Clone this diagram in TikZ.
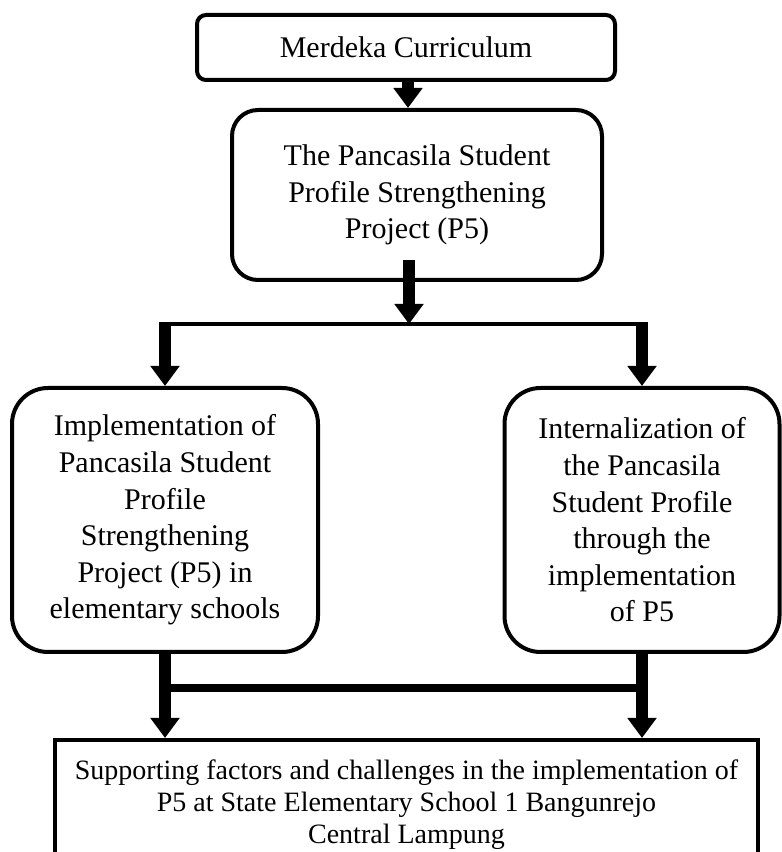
\documentclass[tikz,border=0pt]{standalone}
\usepackage{fontspec}
\setmainfont{Liberation Serif}
\usepackage{xcolor}
\usepackage{tikz}
\usetikzlibrary{arrows.meta,positioning,calc}
\definecolor{cInk}{HTML}{000000}
\tikzset{
  rbox/.style={draw=cInk,rounded corners=#1,line width=4pt,align=center,inner sep=0pt,text=cInk,font=\fontsize{30}{36.6}\selectfont},
  rbox/.default=10pt,
  sqbox/.style={draw=cInk,line width=4pt,align=center,inner sep=0pt,text=cInk,font=\fontsize{28}{32}\selectfont},
  arr/.style={-{Triangle[width=28pt,length=20pt]},line width=12pt,color=cInk},
  bar/.style={line width=#1,color=cInk},
  bar/.default=4pt,
}
\begin{document}
\begin{tikzpicture}[x=1pt,y=1pt]
  \useasboundingbox (0,0) rectangle (782,852);
  \clip (0,0) rectangle (782,852);
  \node[rbox=9pt,minimum width=418pt,minimum height=65pt] (merdeka) at (406,804.5) {Merdeka Curriculum};
  \node[rbox=26pt,minimum width=370pt,minimum height=170pt] (mid) at (417,657) {The Pancasila Student\\Profile Strengthening\\Project (P5)};
  \node[rbox=36pt,minimum width=306pt,minimum height=264pt] (impl) at (165,332) {Implementation of\\Pancasila Student\\Profile\\Strengthening\\Project (P5) in\\elementary schools};
  \node[rbox=36pt,minimum width=275pt,minimum height=264pt] (intern) at (642,332) {Internalization of\\the Pancasila\\Student Profile\\through the\\implementation\\of P5};
  \node[sqbox,minimum width=703pt,minimum height=130pt] (factors) at (406.5,47) {Supporting factors and challenges in the implementation of\\P5 at State Elementary School 1 Bangunrejo\\Central Lampung};
  \coordinate (split) at ($(mid.south)+(-8,-42)$);
  \coordinate (join) at ($(impl.south)+(0,-34)$);
  \draw[arr] ([xshift=2pt]merdeka.south) -- ([xshift=2pt]merdeka.south |- mid.north);
  \draw[arr] ([shift={(-8pt,22pt)}]mid.south) -- (split);
  \draw[bar] ([xshift=-6pt]impl.north |- split) -- ([xshift=6pt]intern.north |- split);
  \draw[arr] ([yshift=2pt]impl.north |- split) -- (impl.north);
  \draw[arr] ([yshift=2pt]intern.north |- split) -- (intern.north);
  \draw[arr] (impl.south) -- (impl.south |- factors.north);
  \draw[arr] (intern.south) -- (intern.south |- factors.north);
  \draw[bar=8pt] (impl.south |- join) -- (intern.south |- join);
\end{tikzpicture}
\end{document}
